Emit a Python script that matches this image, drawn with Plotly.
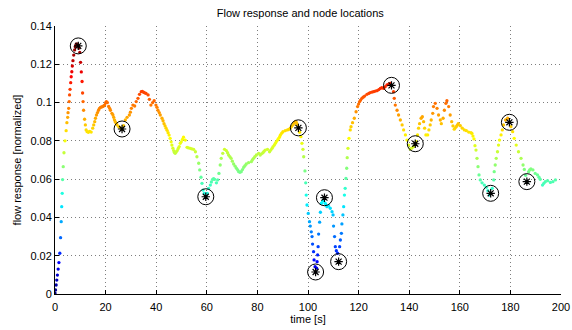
import plotly.graph_objects as go

# ---- data ----
time_s = [0.0, 0.2, 0.45, 0.7, 0.95, 1.25, 1.55, 1.9, 2.2, 2.45, 2.65, 2.85, 3.0, 3.25, 3.55, 3.95, 4.4, 4.7, 5.0, 5.15,
          5.4, 5.6, 5.75, 5.95, 6.2, 6.4, 6.65, 6.85, 7.1, 7.4, 7.75, 8.0, 8.3, 8.6, 8.9, 9.2, 9.5, 9.8, 10.1, 10.4,
          10.7, 10.9, 11.1, 11.3, 11.7, 12.0, 12.3, 12.7, 13.2, 13.7, 14.3, 14.9, 15.3, 15.7, 16.0, 16.4, 16.8, 17.2, 17.6, 18.0,
          18.4, 18.8, 19.2, 19.6, 20.0, 20.3, 20.7, 21.2, 21.6, 21.9, 22.5, 22.9, 23.2, 23.5, 23.8, 24.2, 24.5, 25.2, 25.8, 26.5,
          27.1, 27.8, 28.5, 29.4, 29.8, 30.2, 30.8, 31.5, 32.1, 32.8, 33.4, 34.1, 34.5, 35.0, 35.5, 36.0, 36.8, 37.3, 37.9, 38.6,
          39.2, 39.9, 40.3, 40.7, 41.2, 41.6, 42.3, 42.7, 43.1, 43.5, 43.9, 44.3, 44.7, 45.1, 45.5, 45.9, 46.2, 46.6, 46.9, 47.2,
          47.5, 47.9, 48.3, 48.7, 49.1, 49.5, 49.9, 50.4, 50.8, 51.5, 52.2, 52.8, 53.5, 54.1, 54.8, 55.5, 56.1, 56.8, 57.2, 57.7,
          58.1, 58.5, 59.0, 59.6, 60.2, 60.7, 61.4, 61.8, 62.3, 62.7, 63.1, 63.8, 64.3, 64.8, 65.3, 65.7, 66.3, 67.0, 67.7, 68.2,
          68.6, 69.1, 69.6, 70.1, 70.6, 71.2, 71.7, 72.2, 72.6, 73.1, 73.6, 74.1, 74.6, 75.1, 75.6, 76.5, 77.6, 78.0, 78.5, 79.0,
          79.6, 80.5, 81.1, 81.6, 82.2, 82.6, 83.1, 84.0, 84.8, 85.3, 85.8, 86.2, 86.7, 87.1, 87.5, 88.0, 88.4, 88.8, 89.1, 89.6,
          90.1, 91.0, 91.9, 92.5, 93.0, 93.5, 94.1, 94.5, 95.0, 95.4, 95.8, 96.2, 96.7, 97.2, 97.6, 98.0, 98.3, 98.8, 99.1, 99.3,
          99.6, 100.1, 100.6, 100.9, 101.3, 101.6, 101.8, 102.2, 102.4, 102.8, 103.0, 103.4, 103.6, 103.8, 104.0, 104.2, 104.6, 104.9, 105.3, 105.8,
          106.2, 106.5, 106.8, 107.1, 107.5, 108.1, 108.8, 109.5, 109.9, 110.1, 110.5, 110.8, 111.2, 111.7, 112.1, 112.5, 112.8, 113.2, 113.4, 113.8,
          114.1, 114.4, 114.7, 115.0, 115.3, 115.5, 115.8, 116.2, 116.7, 117.0, 117.6, 118.3, 119.0, 119.6, 120.0, 120.4, 120.8, 121.3, 121.8, 122.4,
          123.3, 124.0, 124.6, 125.3, 125.9, 126.6, 127.3, 128.0, 128.6, 129.2, 129.9, 130.5, 131.2, 131.9, 132.5, 133.0, 133.8, 134.1, 134.5, 135.2,
          135.8, 136.5, 137.2, 137.8, 138.5, 139.1, 139.8, 140.4, 141.0, 141.7, 142.4, 142.8, 143.3, 143.7, 144.1, 144.7, 145.2, 145.7, 146.1, 146.6,
          147.3, 147.8, 148.3, 148.7, 149.3, 149.6, 150.3, 151.0, 151.6, 152.3, 152.7, 153.4, 153.9, 154.5, 154.9, 155.6, 156.2, 156.8, 157.3, 157.8,
          158.2, 158.6, 159.0, 159.4, 160.2, 161.0, 161.8, 162.6, 163.5, 164.4, 164.8, 165.2, 165.6, 166.0, 166.4, 166.8, 167.2, 167.6, 168.1, 168.8,
          169.7, 170.5, 171.1, 171.7, 172.2, 172.8, 173.4, 173.6, 174.0, 174.4, 174.9, 175.3, 175.7, 176.3, 176.8, 177.3, 178.1, 178.9, 179.6, 180.2,
          180.9, 181.5, 182.3, 183.2, 184.2, 185.0, 185.5, 186.0, 186.5, 187.2, 187.6, 188.1, 188.9, 189.8, 190.7, 191.3, 191.8, 192.7, 193.2, 193.8,
          194.7, 195.8, 196.8, 197.8]
flow = [0.0005, 0.0021, 0.0047, 0.0073, 0.0099, 0.013, 0.0164, 0.0213, 0.0294, 0.0378, 0.0456, 0.0526, 0.0598, 0.0665, 0.0738, 0.080, 0.0853, 0.0895, 0.0923, 0.0947,
        0.097, 0.1005, 0.104, 0.1069, 0.1104, 0.1135, 0.1161, 0.1191, 0.1219, 0.1248, 0.1275, 0.1292, 0.1302, 0.1306, 0.1303, 0.1296, 0.1285, 0.1262, 0.121, 0.116,
        0.111, 0.105, 0.1005, 0.096, 0.0913, 0.0883, 0.0857, 0.0848, 0.0845, 0.0850, 0.0846, 0.0866, 0.0883, 0.090, 0.0918, 0.0935, 0.0948, 0.096, 0.0970, 0.0975,
        0.0977, 0.0979, 0.0982, 0.0987, 0.0998, 0.1005, 0.100, 0.098, 0.097, 0.096, 0.0944, 0.0935, 0.0923, 0.091, 0.090, 0.0892, 0.0883, 0.0874, 0.0868, 0.0862,
        0.0880, 0.0909, 0.0923, 0.0935, 0.095, 0.097, 0.0987, 0.0982, 0.1005, 0.1022, 0.1043, 0.1057, 0.1058, 0.1054, 0.1051, 0.1048, 0.104, 0.1017, 0.0987, 0.100,
        0.101, 0.0987, 0.0975, 0.096, 0.0948, 0.0935, 0.0918, 0.0905, 0.089, 0.0878, 0.0866, 0.0855, 0.0843, 0.083, 0.0813, 0.0795, 0.0778, 0.0762, 0.0749, 0.0740,
        0.0735, 0.0742, 0.0749, 0.076, 0.077, 0.0787, 0.0795, 0.0808, 0.0819, 0.0804, 0.0766, 0.0763, 0.0761, 0.0758, 0.0756, 0.0743, 0.0717, 0.0683, 0.0648, 0.061,
        0.0578, 0.0543, 0.0525, 0.0508, 0.0525, 0.0552, 0.0569, 0.0585, 0.0599, 0.0602, 0.0599, 0.0581, 0.0596, 0.063, 0.0674, 0.0709, 0.0735, 0.0756, 0.0749, 0.0738,
        0.0726, 0.0718, 0.0709, 0.0694, 0.0679, 0.0668, 0.0657, 0.0648, 0.0639, 0.0636, 0.0639, 0.065, 0.0662, 0.0671, 0.0679, 0.0686, 0.0691, 0.0700, 0.0709, 0.0718,
        0.0726, 0.0735, 0.0726, 0.0732, 0.0738, 0.0745, 0.0752, 0.0756, 0.0743, 0.0752, 0.0761, 0.077, 0.0778, 0.0787, 0.0796, 0.0805, 0.0813, 0.0822, 0.0831, 0.084,
        0.0848, 0.0853, 0.0857, 0.086, 0.0866, 0.0875, 0.0883, 0.0892, 0.090, 0.0896, 0.0885, 0.0868, 0.0845, 0.0822, 0.0787, 0.0756, 0.0717, 0.0643, 0.0581, 0.0517,
        0.0465, 0.0421, 0.0378, 0.0355, 0.0325, 0.030, 0.0261, 0.0221, 0.0178, 0.0143, 0.0115, 0.0135, 0.0169, 0.0204, 0.0247, 0.0313, 0.0375, 0.0427, 0.0474, 0.0485,
        0.0491, 0.0503, 0.0474, 0.0465, 0.0456, 0.0461, 0.0448, 0.043, 0.0413, 0.0355, 0.030, 0.0247, 0.0226, 0.0213, 0.0169, 0.0247, 0.0282, 0.0317, 0.0366, 0.0413,
        0.0456, 0.0517, 0.0552, 0.0604, 0.0657, 0.0712, 0.0761, 0.0813, 0.0857, 0.0874, 0.0895, 0.0918, 0.0952, 0.0979, 0.0992, 0.1005, 0.1013, 0.1022, 0.1028, 0.1034,
        0.1043, 0.1048, 0.1052, 0.1055, 0.1057, 0.106, 0.1062, 0.1068, 0.1074, 0.1078, 0.1074, 0.1083, 0.1092, 0.1096, 0.110, 0.1090, 0.1057, 0.1022, 0.0987, 0.096,
        0.0935, 0.0909, 0.0883, 0.0857, 0.0831, 0.0804, 0.0778, 0.0758, 0.0762, 0.0770, 0.0785, 0.0796, 0.0831, 0.0866, 0.089, 0.0918, 0.0926, 0.090, 0.0866, 0.0831,
        0.0831, 0.0857, 0.0883, 0.0909, 0.0944, 0.0979, 0.0996, 0.097, 0.0935, 0.0909, 0.089, 0.0918, 0.096, 0.0996, 0.101, 0.0979, 0.0935, 0.090, 0.0878, 0.0861,
        0.0868, 0.0874, 0.0882, 0.089, 0.0879, 0.0866, 0.0857, 0.0853, 0.0846, 0.0843, 0.0839, 0.0825, 0.081, 0.0775, 0.0752, 0.0709, 0.0665, 0.0622, 0.0596, 0.0581,
        0.0569, 0.0557, 0.054, 0.0517, 0.0526, 0.0552, 0.0596, 0.0639, 0.0674, 0.0709, 0.0743, 0.0778, 0.0804, 0.0831, 0.0857, 0.0883, 0.0909, 0.0918, 0.0897, 0.0874,
        0.0848, 0.0813, 0.0778, 0.0743, 0.0709, 0.0674, 0.0651, 0.062, 0.0587, 0.0639, 0.0648, 0.0653, 0.0648, 0.063, 0.0622, 0.061, 0.0599, 0.0569, 0.0578, 0.0587,
        0.0592, 0.0583, 0.0587, 0.0596]

node_t = [9.2, 26.5, 59.6, 96.2, 103.0, 106.5, 112.1, 133.0, 142.4, 172.2, 179.6, 186.5]
node_y = [0.1296, 0.0862, 0.0508, 0.0868, 0.0115, 0.0503, 0.0169, 0.1090, 0.0785, 0.0526, 0.0897, 0.0587]

x_ticks = [0, 20, 40, 60, 80, 100, 120, 140, 160, 180, 200]
y_ticks = [0, 0.02, 0.04, 0.06, 0.08, 0.1, 0.12, 0.14]
y_tick_text = ["0", "0.02", "0.04", "0.06", "0.08", "0.1", "0.12", "0.14"]

jet = [[0.0, "rgb(0,0,128)"], [0.125, "rgb(0,0,255)"], [0.375, "rgb(0,255,255)"],
       [0.625, "rgb(255,255,0)"], [0.875, "rgb(255,0,0)"], [1.0, "rgb(128,0,0)"]]

fig = go.Figure()
fig.add_trace(go.Scatter(
    x=time_s, y=flow, mode="markers",
    marker=dict(size=3.3, color=flow, colorscale=jet, cmin=0, cmax=0.13,
                showscale=False, line=dict(width=0)),
    hoverinfo="x+y", showlegend=False))
fig.add_trace(go.Scatter(
    x=node_t, y=node_y, mode="markers",
    marker=dict(symbol="circle-open", size=16, color="black", line=dict(width=1, color="black")),
    showlegend=False))
fig.add_trace(go.Scatter(
    x=node_t, y=node_y, mode="markers",
    marker=dict(symbol="asterisk-open", size=7, color="black", line=dict(width=1.2, color="black")),
    showlegend=False))

font = "Liberation Sans, Arial, Helvetica, sans-serif"
axis_common = dict(
    showline=True, linecolor="black", linewidth=1, mirror=False,
    ticks="inside", ticklen=4, tickcolor="black", tickwidth=1,
    showgrid=True, gridcolor="rgba(40,40,40,0.6)", gridwidth=1, griddash="1px,3px",
    zeroline=False, automargin=False,
    tickfont=dict(family=font, size=11, color="black"),
)
fig.update_xaxes(range=[0, 200], tickvals=x_ticks, ticklabelstandoff=3,
                 title=dict(text="time [s]", font=dict(family=font, size=11, color="black"), standoff=0),
                 **axis_common)
fig.update_yaxes(range=[0, 0.14], tickvals=y_ticks, ticktext=y_tick_text,
                 title=dict(text="flow response [normalized]", font=dict(family=font, size=11, color="black"), standoff=6),
                 **axis_common)

fig.update_layout(
    width=572, height=330,
    margin=dict(l=55, r=11, t=26, b=36, autoexpand=False),
    paper_bgcolor="white", plot_bgcolor="white",
    title=dict(text="Flow response and node locations", x=0.525, xanchor="center",
               y=1 - 13 / 330, yanchor="middle", yref="container",
               font=dict(family=font, size=11, color="black"), automargin=False),
)
fig.write_html("out.html", config={"displayModeBar": False},
               post_script="document.body.style.margin='0';document.body.style.overflow='hidden';")
